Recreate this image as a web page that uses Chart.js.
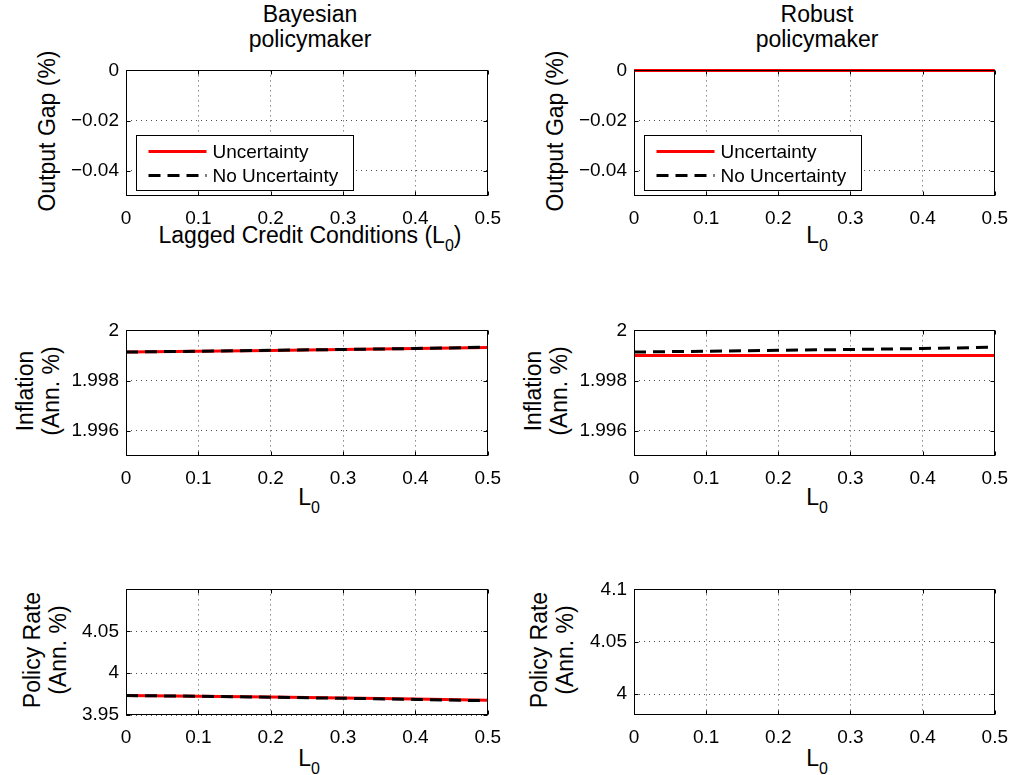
<!DOCTYPE html>
<html>
<head>
<meta charset="utf-8">
<script src="https://cdn.jsdelivr.net/npm/chart.js@4/dist/chart.umd.min.js"></script>
<style>
body { margin: 0; background: #fff; width: 1021px; height: 775px; position: relative; overflow: hidden;
       font-family: "Liberation Sans", Arial, sans-serif; color: #000; }
canvas { position: absolute; }
.lbl { position: absolute; font-size: 23px; white-space: nowrap; text-align: center; }
.ttl { line-height: 25px; transform: translateX(-50%); }
.ylab { line-height: 26px; transform: translate(-50%, -50%) rotate(-90deg); }
.xlab { line-height: 26px; transform: translateX(-50%); }
sub { font-size: 16px; vertical-align: -8px; line-height: 0; }
</style>
</head>
<body>

<div class="lbl ttl" style="left:310px;top:2px">Bayesian<br>policymaker</div>
<div class="lbl ttl" style="left:817px;top:2px">Robust<br>policymaker</div>

<div class="lbl ylab" style="left:47px;top:131px">Output Gap (%)</div>
<div class="lbl ylab" style="left:38px;top:391px">Inflation<br>(Ann. %)</div>
<div class="lbl ylab" style="left:45px;top:650px">Policy Rate<br>(Ann. %)</div>
<div class="lbl ylab" style="left:555px;top:131px">Output Gap (%)</div>
<div class="lbl ylab" style="left:546px;top:391px">Inflation<br>(Ann. %)</div>
<div class="lbl ylab" style="left:552px;top:650px">Policy Rate<br>(Ann. %)</div>

<div class="lbl xlab" style="left:310px;top:222px">Lagged Credit Conditions (L<sub>0</sub>)</div>
<div class="lbl xlab" style="left:817px;top:222px">L<sub>0</sub></div>
<div class="lbl xlab" style="left:309px;top:484px">L<sub>0</sub></div>
<div class="lbl xlab" style="left:817px;top:484px">L<sub>0</sub></div>
<div class="lbl xlab" style="left:309px;top:745px">L<sub>0</sub></div>
<div class="lbl xlab" style="left:817px;top:745px">L<sub>0</sub></div>

<script>
// lagged credit conditions L0
const lagged = [0, 0.1, 0.2, 0.3, 0.4, 0.5];
const xTicks = [0, 0.1, 0.2, 0.3, 0.4, 0.5];

// output gap (%) - bayesian lines sit above the plotted range
const gapBayesUnc = [0.0021, 0.0021, 0.0022, 0.0022, 0.0023, 0.0023];
const gapNoUnc = [0.0021, 0.0021, 0.0022, 0.0022, 0.0023, 0.0023];
const gapRobustUnc = [0, 0, 0, 0, 0, 0];
const gapTicks = [-0.04, -0.02, 0];

// inflation (ann. %)
const inflBayesUnc = [1.99914, 1.99917, 1.99920, 1.99924, 1.99928, 1.99932];
const inflNoUnc = [1.99914, 1.99917, 1.99921, 1.99924, 1.99928, 1.99933];
const inflRobustUnc = [1.99900, 1.99900, 1.99900, 1.99900, 1.99900, 1.99900];
const inflTicks = [1.996, 1.998, 2];

// policy rate (ann. %) - robust lines fall below the plotted range
const rateBayesUnc = [3.9732, 3.9725, 3.9715, 3.9704, 3.9691, 3.9676];
const rateNoUnc = [3.9732, 3.9724, 3.9712, 3.9700, 3.9686, 3.9670];
const rateRobustUnc = [3.9750, 3.9750, 3.9750, 3.9750, 3.9750, 3.9750];
const rateTicksBayes = [3.95, 4, 4.05];
const rateTicksRobust = [4, 4.05, 4.1];

const seriesNames = ["Uncertainty", "No Uncertainty"];

Chart.defaults.font.family = '"Liberation Sans", Arial, sans-serif';
Chart.defaults.font.size = 19;
Chart.defaults.color = "#000";

const fmt = v => (v < 0 ? "\u2212" + Math.abs(v) : String(v));

// MATLAB style box with inward ticks
const framePlugin = {
    id: "frame",
    afterDatasetsDraw(chart) {
        const a = chart.chartArea, ctx = chart.ctx;
        const l = Math.round(a.left) + 0.5, r = Math.round(a.right) - 0.5;
        const t = Math.round(a.top) + 0.5, b = Math.round(a.bottom) - 0.5;
        ctx.save();
        ctx.strokeStyle = "#000";
        ctx.lineWidth = 1;
        ctx.strokeRect(l, t, r - l, b - t);
        ctx.beginPath();
        chart.scales.x.ticks.forEach(tk => {
            const px = Math.round(chart.scales.x.getPixelForValue(tk.value)) + 0.5;
            ctx.moveTo(px, b); ctx.lineTo(px, b - 4);
            ctx.moveTo(px, t); ctx.lineTo(px, t + 4);
        });
        chart.scales.y.ticks.forEach(tk => {
            const py = Math.round(chart.scales.y.getPixelForValue(tk.value)) + 0.5;
            ctx.moveTo(l, py); ctx.lineTo(l + 4, py);
            ctx.moveTo(r, py); ctx.lineTo(r - 4, py);
        });
        ctx.stroke();
        ctx.restore();
    },
    afterDraw(chart, args, opts) {
        if (!opts.legend) return;
        const a = chart.chartArea, ctx = chart.ctx;
        const x = Math.round(a.left) + 10.5, y = Math.round(a.top) + 65.5;
        ctx.save();
        ctx.fillStyle = "#fff";
        ctx.fillRect(x, y, 217, 55);
        ctx.strokeStyle = "#000";
        ctx.lineWidth = 1;
        ctx.strokeRect(x, y, 217, 55);
        ctx.font = '19px "Liberation Sans", Arial, sans-serif';
        ctx.textBaseline = "middle";
        chart.data.datasets.forEach((ds, i) => {
            const ly = y + 16 + i * 24;
            ctx.strokeStyle = ds.borderColor;
            ctx.lineWidth = ds.borderWidth;
            ctx.setLineDash(ds.borderDash || []);
            ctx.beginPath();
            ctx.moveTo(x + 12, ly);
            ctx.lineTo(x + 70, ly);
            ctx.stroke();
            ctx.setLineDash([]);
            ctx.fillStyle = "#000";
            ctx.fillText(ds.label, x + 76, ly + 1);
        });
        ctx.restore();
    }
};

const colLeft = [126, 634];
const colWidth = [368, 367];
const rowTop = [66, 326, 585];
const plotH = 130;

const panels = [
    { row: 0, col: 0, unc: gapBayesUnc, noUnc: gapNoUnc, min: -0.05, max: 0, ticks: gapTicks, legend: true },
    { row: 0, col: 1, unc: gapRobustUnc, noUnc: gapNoUnc, min: -0.05, max: 0, ticks: gapTicks, legend: true },
    { row: 1, col: 0, unc: inflBayesUnc, noUnc: inflNoUnc, min: 1.995, max: 2, ticks: inflTicks },
    { row: 1, col: 1, unc: inflRobustUnc, noUnc: inflNoUnc, min: 1.995, max: 2, ticks: inflTicks },
    { row: 2, col: 0, unc: rateBayesUnc, noUnc: rateNoUnc, min: 3.95, max: 4.1, ticks: rateTicksBayes },
    { row: 2, col: 1, unc: rateRobustUnc, noUnc: rateNoUnc, min: 3.98, max: 4.1, ticks: rateTicksRobust }
];

const padL = 70, padT = 14, padR = 18, padB = 40;

panels.forEach(p => {
    const cv = document.createElement("canvas");
    const w = colWidth[p.col] + padL + padR;
    const h = plotH + padT + padB;
    cv.width = w;
    cv.height = h;
    cv.style.left = (colLeft[p.col] - padL) + "px";
    cv.style.top = (rowTop[p.row] - padT) + "px";
    document.body.appendChild(cv);

    new Chart(cv.getContext("2d"), {
        type: "line",
        data: {
            datasets: [{
                label: seriesNames[0],
                data: lagged.map((x, i) => ({ x: x, y: p.unc[i] })),
                borderColor: "#ff0000",
                borderWidth: 3,
                pointRadius: 0,
                clip: 2,
                order: 2
            }, {
                label: seriesNames[1],
                data: lagged.map((x, i) => ({ x: x, y: p.noUnc[i] })),
                borderColor: "#000000",
                borderWidth: 3,
                borderDash: [12, 7],
                pointRadius: 0,
                clip: 2,
                order: 1
            }]
        },
        options: {
            responsive: false,
            animation: false,
            devicePixelRatio: 1,
            layout: { padding: { left: 0, top: padT, right: padR, bottom: 0 } },
            plugins: {
                legend: { display: false },
                tooltip: { enabled: false },
                frame: { legend: !!p.legend }
            },
            scales: {
                x: {
                    type: "linear",
                    min: 0,
                    max: 0.5,
                    afterBuildTicks: s => { s.ticks = xTicks.map(v => ({ value: v })); },
                    afterFit: s => { s.height = padB; },
                    ticks: { callback: v => fmt(v), padding: 11, maxRotation: 0, autoSkip: false },
                    grid: { color: "rgba(0,0,0,0.7)", drawTicks: false },
                    border: { display: false, dash: [1, 4] }
                },
                y: {
                    min: p.min,
                    max: p.max,
                    afterBuildTicks: s => { s.ticks = p.ticks.map(v => ({ value: v })); },
                    afterFit: s => { s.width = padL; },
                    ticks: { callback: v => fmt(v), padding: 7 },
                    grid: { color: "rgba(0,0,0,0.7)", drawTicks: false },
                    border: { display: false, dash: [1, 4] }
                }
            }
        },
        plugins: [framePlugin]
    });
});
</script>
</body>
</html>
